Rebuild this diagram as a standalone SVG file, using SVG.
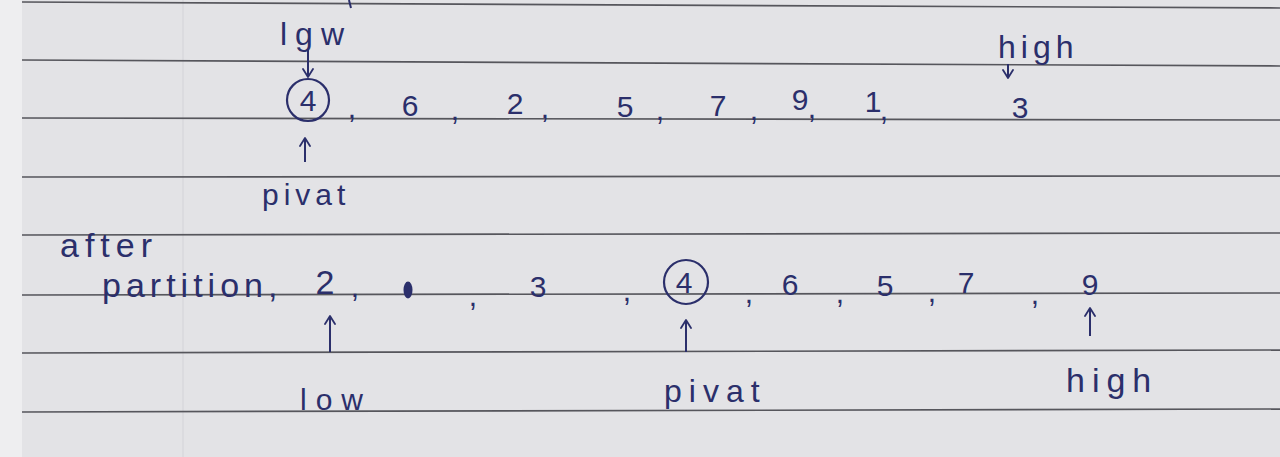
<svg xmlns="http://www.w3.org/2000/svg" width="1280" height="457" viewBox="0 0 1280 457">
  <defs>
    <style>
      .rule { stroke: #56565c; stroke-width: 1.7; fill: none; }
      .ink { fill: #2b2f6b; font-family: "Liberation Sans", "DejaVu Sans", sans-serif; }
      .num { font-size: 30px; text-anchor: middle; }
      .word { font-size: 32px; }
      .ring { fill: none; stroke: #2b2f6b; stroke-width: 2.2; }
      .arrow { stroke: #2b2f6b; stroke-width: 2; fill: none; marker-end: url(#head); }
    </style>
    <marker id="head" viewBox="0 0 10 12" refX="9" refY="6" markerWidth="10" markerHeight="12" markerUnits="userSpaceOnUse" orient="auto">
      <path d="M1,1 L9,6 L1,11" fill="none" stroke="#2b2f6b" stroke-width="1.8" stroke-linecap="round" stroke-linejoin="round"/>
    </marker>
  </defs>

  <!-- paper -->
  <rect x="0" y="0" width="1280" height="457" fill="#e3e3e6"/>
  <rect x="0" y="0" width="22" height="457" fill="#eeeef0"/>
  <line x1="183" y1="0" x2="183" y2="457" stroke="#d6d6da" stroke-width="1.2"/>

  <g id="rules">
    <line class="rule" x1="22" y1="2" x2="1280" y2="8"/>
    <line class="rule" x1="22" y1="60" x2="1280" y2="66"/>
    <line class="rule" x1="22" y1="118" x2="1280" y2="120"/>
    <line class="rule" x1="22" y1="177" x2="1280" y2="176"/>
    <line class="rule" x1="22" y1="235" x2="1280" y2="233"/>
    <line class="rule" x1="22" y1="295" x2="1280" y2="293"/>
    <line class="rule" x1="22" y1="353" x2="1280" y2="350"/>
    <line class="rule" x1="22" y1="412" x2="1280" y2="409"/>
  </g>

  <!-- top row -->
  <g id="label-low-top">
    <text class="ink word" x="280" y="45" letter-spacing="8">lgw</text>
    <line x1="349" y1="0" x2="351" y2="8" stroke="#2b2f6b" stroke-width="2"/>
  </g>
  <g id="label-high-top">
    <text class="ink word" x="998" y="58" letter-spacing="5">high</text>
  </g>
  <g id="pivot-top">
    <circle class="ring" cx="308" cy="100" r="21"/>
    <text class="ink num" x="308" y="111">4</text>
  </g>
  <g id="array-top">
    <text class="ink num" x="352" y="118">,</text>
    <text class="ink num" x="410" y="116">6</text>
    <text class="ink num" x="455" y="120">,</text>
    <text class="ink num" x="515" y="114">2</text>
    <text class="ink num" x="545" y="118">,</text>
    <text class="ink num" x="625" y="117">5</text>
    <text class="ink num" x="660" y="120">,</text>
    <text class="ink num" x="718" y="116">7</text>
    <text class="ink num" x="754" y="120">,</text>
    <text class="ink num" x="800" y="110">9</text>
    <text class="ink num" x="812" y="118">,</text>
    <text class="ink num" x="873" y="112">1</text>
    <text class="ink num" x="884" y="120">,</text>
    <text class="ink num" x="1020" y="118">3</text>
  </g>
  <g id="label-pivot-top">
    <text class="ink word" x="262" y="205" style="font-size:30px" letter-spacing="5">pivat</text>
  </g>

  <!-- bottom row -->
  <g id="label-after">
    <text class="ink word" x="60" y="257" style="font-size:34px" letter-spacing="6">after</text>
    <text class="ink word" x="102" y="297" style="font-size:34px" letter-spacing="5">partition,</text>
  </g>
  <g id="array-bottom">
    <text class="ink num" x="325" y="294" style="font-size:34px">2</text>
    <text class="ink num" x="355" y="297">,</text>
    <ellipse cx="408" cy="290" rx="4.5" ry="8.5" fill="#2b2f6b"/>
    <text class="ink num" x="473" y="306">,</text>
    <text class="ink num" x="538" y="297">3</text>
    <text class="ink num" x="627" y="301">,</text>
    <text class="ink num" x="749" y="303">,</text>
    <text class="ink num" x="790" y="295">6</text>
    <text class="ink num" x="840" y="303">,</text>
    <text class="ink num" x="885" y="296">5</text>
    <text class="ink num" x="932" y="302">,</text>
    <text class="ink num" x="966" y="293">7</text>
    <text class="ink num" x="1035" y="304">,</text>
    <text class="ink num" x="1090" y="295">9</text>
  </g>
  <g id="pivot-bottom">
    <circle class="ring" cx="686" cy="282" r="22"/>
    <text class="ink num" x="684" y="293">4</text>
  </g>
  <g id="label-low-bottom">
    <text class="ink word" x="300" y="410" style="font-size:30px" letter-spacing="9">low</text>
  </g>
  <g id="label-pivot-bottom">
    <text class="ink word" x="664" y="402" letter-spacing="7">pivat</text>
  </g>
  <g id="label-high-bottom">
    <text class="ink word" x="1066" y="392" style="font-size:34px" letter-spacing="7">high</text>
  </g>

  <g id="connectors">
    <line class="arrow" x1="308" y1="50" x2="308" y2="77"/>
    <line class="arrow" x1="1008" y1="64" x2="1008" y2="78"/>
    <line class="arrow" x1="305" y1="162" x2="305" y2="138"/>
    <line class="arrow" x1="330" y1="352" x2="330" y2="316"/>
    <line class="arrow" x1="686" y1="352" x2="686" y2="320"/>
    <line class="arrow" x1="1090" y1="336" x2="1090" y2="308"/>
  </g>
</svg>
